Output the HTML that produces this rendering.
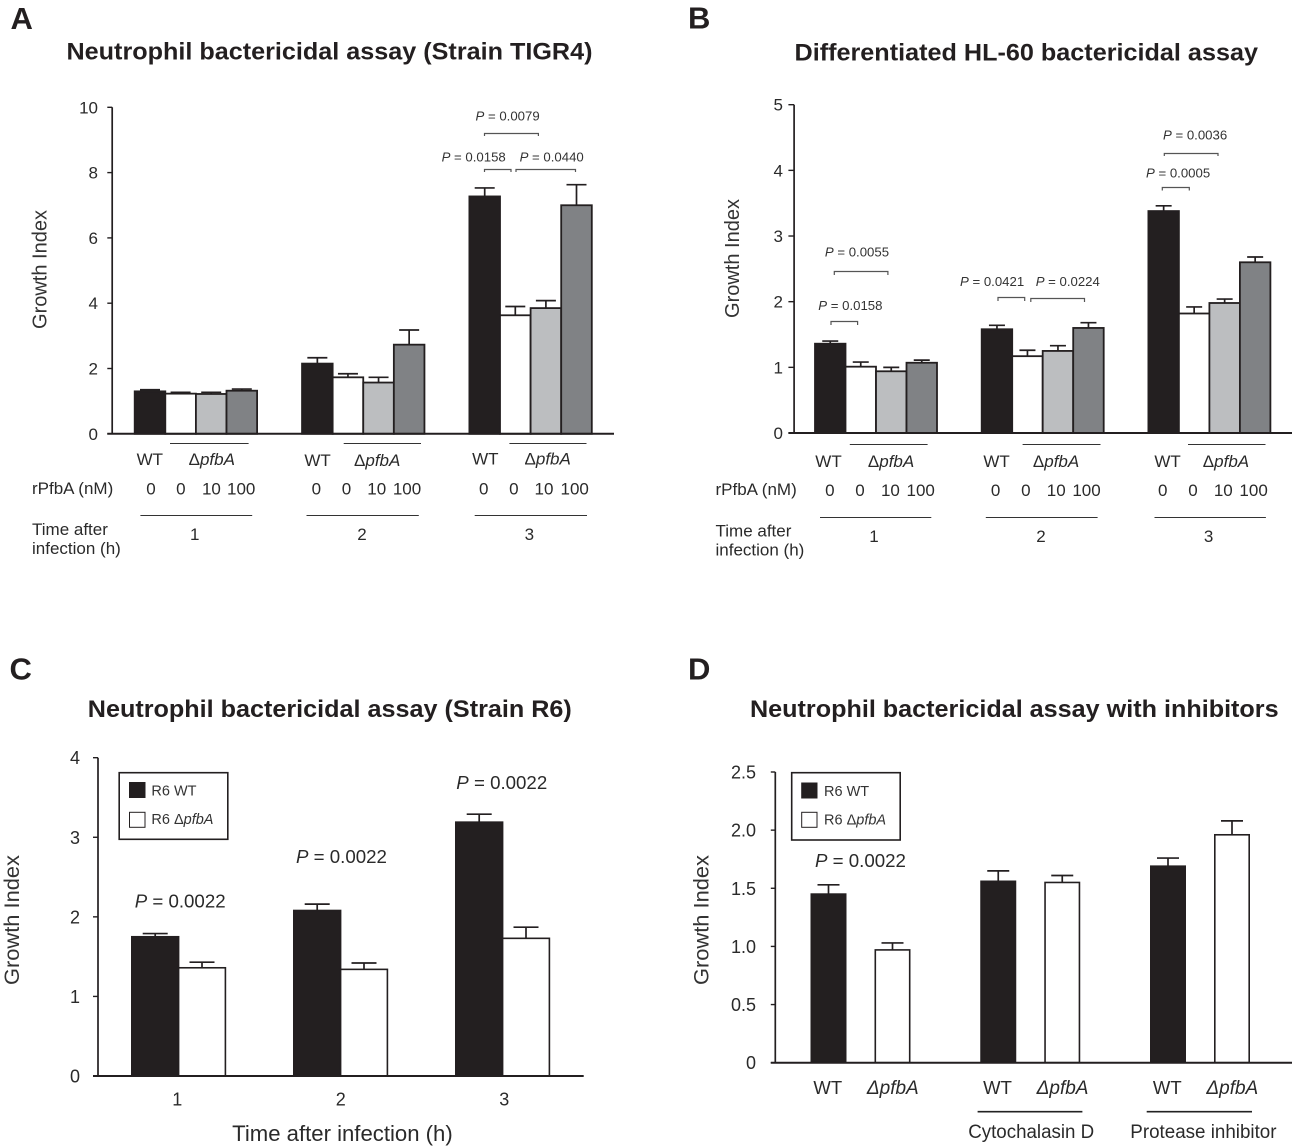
<!DOCTYPE html>
<html lang="en">
<head>
<meta charset="utf-8">
<title>Bactericidal assay growth index panels</title>
<style>
html,body{margin:0;padding:0;background:#fff;}
svg{display:block;}
text{font-family:"Liberation Sans",Arial,sans-serif;fill:#231f20;}
.letter{font-size:31px;font-weight:bold;}
.title{font-size:24.5px;font-weight:bold;}
.ylab{font-size:20.5px;fill:#333;}
.lab{font-size:17px;fill:#2a2a2a;}
.p{font-size:13.2px;fill:#333;}
.pl{font-size:18.7px;fill:#2a2a2a;}
.dl{font-size:18px;fill:#2a2a2a;}
.leg{font-size:14.5px;fill:#333;}
.i{font-style:italic;}
.br{fill:none;stroke:#555;stroke-width:1.2;}
.ln{stroke:#333;stroke-width:1.1;}
.lnb{stroke:#222;stroke-width:1.6;}
</style>
</head>
<body>
<svg id="fig" width="1292" height="1148" viewBox="0 0 1292 1148" xmlns="http://www.w3.org/2000/svg">
<rect width="1292" height="1148" fill="#fff"/>

<!-- Panel A -->
<g id="panelA">
<text class="letter" x="10.5" y="29">A</text>
<text class="title" x="66.5" y="59.5" textLength="526" lengthAdjust="spacingAndGlyphs">Neutrophil bactericidal assay (Strain TIGR4)</text>
<text class="ylab" transform="translate(46.5,329) rotate(-90)" textLength="119" lengthAdjust="spacingAndGlyphs">Growth Index</text>
<text class="lab" x="149.8" y="465" text-anchor="middle">WT</text>
<text class="lab" x="188.6" y="465">Δ<tspan class="i">pfbA</tspan></text>
<text class="lab" x="317.6" y="466" text-anchor="middle">WT</text>
<text class="lab" x="354" y="466">Δ<tspan class="i">pfbA</tspan></text>
<text class="lab" x="485.3" y="464.5" text-anchor="middle">WT</text>
<text class="lab" x="524.5" y="464.5">Δ<tspan class="i">pfbA</tspan></text>
<line class="ln" x1="170" x2="248.6" y1="443.5" y2="443.5"/>
<line class="ln" x1="343.7" x2="421" y1="443.5" y2="443.5"/>
<line class="ln" x1="509.4" x2="586.5" y1="443.5" y2="443.5"/>
<text class="lab" x="32" y="494">rPfbA (nM)</text>
<g text-anchor="middle">
<text class="lab" x="151" y="494.5">0</text><text class="lab" x="180.8" y="494.5">0</text><text class="lab" x="211.4" y="494.5">10</text><text class="lab" x="241.2" y="494.5">100</text>
<text class="lab" x="316.3" y="494.5">0</text><text class="lab" x="346.5" y="494.5">0</text><text class="lab" x="376.7" y="494.5">10</text><text class="lab" x="407" y="494.5">100</text>
<text class="lab" x="483.7" y="494.5">0</text><text class="lab" x="513.9" y="494.5">0</text><text class="lab" x="544" y="494.5">10</text><text class="lab" x="574.7" y="494.5">100</text>
</g>
<line class="ln" x1="140.4" x2="252.2" y1="515.5" y2="515.5"/>
<line class="ln" x1="306.5" x2="418.8" y1="515.5" y2="515.5"/>
<line class="ln" x1="474.7" x2="587" y1="515.5" y2="515.5"/>
<text class="lab" x="32" y="535">Time after</text>
<text class="lab" x="32" y="554">infection (h)</text>
<text class="lab" x="194.7" y="540" text-anchor="middle">1</text>
<text class="lab" x="362" y="540" text-anchor="middle">2</text>
<text class="lab" x="529.4" y="540" text-anchor="middle">3</text>
<text class="p" x="475.5" y="120.4"><tspan class="i">P</tspan> = 0.0079</text>
<path class="br" d="M484.5 136V133.5H538.4V136"/>
<text class="p" x="441.6" y="161.5"><tspan class="i">P</tspan> = 0.0158</text>
<path class="br" d="M484.5 172V169.5H511V172"/>
<text class="p" x="519.6" y="161.5"><tspan class="i">P</tspan> = 0.0440</text>
<path class="br" d="M516 172V169.5H575.5V172"/>
</g>

<!-- Panel B -->
<g id="panelB">
<text class="letter" x="688" y="28.5">B</text>
<text class="title" x="794.5" y="60.5" textLength="463.5" lengthAdjust="spacingAndGlyphs">Differentiated HL-60 bactericidal assay</text>
<text class="ylab" transform="translate(738.9,318) rotate(-90)" textLength="119" lengthAdjust="spacingAndGlyphs">Growth Index</text>
<text class="lab" x="828.5" y="467" text-anchor="middle">WT</text>
<text class="lab" x="867.9" y="467">Δ<tspan class="i">pfbA</tspan></text>
<text class="lab" x="996.6" y="467" text-anchor="middle">WT</text>
<text class="lab" x="1032.9" y="467">Δ<tspan class="i">pfbA</tspan></text>
<text class="lab" x="1167.6" y="467" text-anchor="middle">WT</text>
<text class="lab" x="1202.8" y="467">Δ<tspan class="i">pfbA</tspan></text>
<line class="ln" x1="849.8" x2="927.6" y1="444.5" y2="444.5"/>
<line class="ln" x1="1022.6" x2="1100.5" y1="444.5" y2="444.5"/>
<line class="ln" x1="1188" x2="1265.5" y1="444.5" y2="444.5"/>
<text class="lab" x="715.5" y="495">rPfbA (nM)</text>
<g text-anchor="middle">
<text class="lab" x="829.8" y="496">0</text><text class="lab" x="860" y="496">0</text><text class="lab" x="890.4" y="496">10</text><text class="lab" x="920.7" y="496">100</text>
<text class="lab" x="995.6" y="496">0</text><text class="lab" x="1025.9" y="496">0</text><text class="lab" x="1056.2" y="496">10</text><text class="lab" x="1086.5" y="496">100</text>
<text class="lab" x="1162.7" y="496">0</text><text class="lab" x="1193" y="496">0</text><text class="lab" x="1223.3" y="496">10</text><text class="lab" x="1253.6" y="496">100</text>
</g>
<line class="ln" x1="820" x2="931.3" y1="517.5" y2="517.5"/>
<line class="ln" x1="985.8" x2="1097.6" y1="517.5" y2="517.5"/>
<line class="ln" x1="1154.5" x2="1265.9" y1="517.5" y2="517.5"/>
<text class="lab" x="715.5" y="536.4">Time after</text>
<text class="lab" x="715.5" y="555.3">infection (h)</text>
<text class="lab" x="874" y="541.8" text-anchor="middle">1</text>
<text class="lab" x="1041" y="541.8" text-anchor="middle">2</text>
<text class="lab" x="1208.6" y="541.8" text-anchor="middle">3</text>
<text class="p" x="1163" y="139.3"><tspan class="i">P</tspan> = 0.0036</text>
<path class="br" d="M1164.3 156V153.5H1218V156"/>
<text class="p" x="1146" y="177.5"><tspan class="i">P</tspan> = 0.0005</text>
<path class="br" d="M1162.3 190.5V187.5H1189.3V190.5"/>
<text class="p" x="824.9" y="256.7"><tspan class="i">P</tspan> = 0.0055</text>
<path class="br" d="M834.3 275V271.5H887.9V275"/>
<text class="p" x="818.3" y="310"><tspan class="i">P</tspan> = 0.0158</text>
<path class="br" d="M831 325V321.5H857.6V325"/>
<text class="p" x="960" y="286"><tspan class="i">P</tspan> = 0.0421</text>
<path class="br" d="M998 301V297.5H1024.7V301"/>
<text class="p" x="1035.7" y="286"><tspan class="i">P</tspan> = 0.0224</text>
<path class="br" d="M1030.8 302V298.5H1084.5V302"/>
</g>

<!-- Panel C -->
<g id="panelC">
<text class="letter" x="9.5" y="679.5">C</text>
<text class="title" x="87.8" y="717" textLength="484" lengthAdjust="spacingAndGlyphs">Neutrophil bactericidal assay (Strain R6)</text>
<text class="ylab" style="font-size:21.5px" transform="translate(19.2,985) rotate(-90)" textLength="130" lengthAdjust="spacingAndGlyphs">Growth Index</text>
<text class="pl" x="134.7" y="907.7"><tspan class="i">P</tspan> = 0.0022</text>
<text class="pl" x="296" y="863"><tspan class="i">P</tspan> = 0.0022</text>
<text class="pl" x="456.3" y="789"><tspan class="i">P</tspan> = 0.0022</text>
<text class="dl" x="232.2" y="1141" style="font-size:22px" textLength="220.5" lengthAdjust="spacingAndGlyphs">Time after infection (h)</text>
<rect x="119.2" y="772.7" width="108.6" height="66.6" fill="#fff" stroke="#231f20" stroke-width="1.6"/>
<rect x="129.5" y="782.5" width="15.5" height="15" fill="#231f20" stroke="#231f20"/>
<rect x="129.5" y="812.3" width="15.5" height="15" fill="#fff" stroke="#231f20"/>
<text class="leg" x="151.4" y="795.5">R6 WT</text>
<text class="leg" x="151.4" y="824">R6 Δ<tspan class="i">pfbA</tspan></text>
</g>

<!-- Panel D -->
<g id="panelD">
<text class="letter" x="688" y="679.5">D</text>
<text class="title" x="750" y="717" textLength="528.6" lengthAdjust="spacingAndGlyphs">Neutrophil bactericidal assay with inhibitors</text>
<text class="ylab" style="font-size:21.5px" transform="translate(708.6,985) rotate(-90)" textLength="130" lengthAdjust="spacingAndGlyphs">Growth Index</text>
<text class="pl" x="815" y="867"><tspan class="i">P</tspan> = 0.0022</text>
<line class="lnb" x1="977.6" x2="1082.4" y1="1111.7" y2="1111.7"/>
<line class="lnb" x1="1146.7" x2="1252" y1="1111.7" y2="1111.7"/>
<text class="dl" style="font-size:19px" x="968.2" y="1138" textLength="126" lengthAdjust="spacingAndGlyphs">Cytochalasin D</text>
<text class="dl" style="font-size:19px" x="1130.3" y="1138" textLength="146.2" lengthAdjust="spacingAndGlyphs">Protease inhibitor</text>
<rect x="791.7" y="772.7" width="108.5" height="67.3" fill="#fff" stroke="#231f20" stroke-width="1.6"/>
<rect x="801.7" y="783" width="15.3" height="15" fill="#231f20" stroke="#231f20"/>
<rect x="801.7" y="812.3" width="15.3" height="15" fill="#fff" stroke="#231f20"/>
<text class="leg" x="824" y="796">R6 WT</text>
<text class="leg" x="824" y="824.3">R6 Δ<tspan class="i">pfbA</tspan></text>
</g>
</svg>

<script>
// ---- Panel A data ----
const aTickLabels = ['0','2','4','6','8','10'];
const aWT = [1.30, 2.15, 7.27];
const aWTErr = [0.05, 0.18, 0.26];
const aMut0 = [1.23, 1.73, 3.63];
const aMut0Err = [0.04, 0.11, 0.27];
const aMut10 = [1.22, 1.57, 3.85];
const aMut10Err = [0.05, 0.16, 0.23];
const aMut100 = [1.32, 2.73, 7.00];
const aMut100Err = [0.05, 0.45, 0.63];

// ---- Panel B data ----
const bTickLabels = ['0','1','2','3','4','5'];
const bWT = [1.36, 1.58, 3.38];
const bWTErr = [0.04, 0.06, 0.08];
const bMut0 = [1.01, 1.17, 1.82];
const bMut0Err = [0.07, 0.09, 0.10];
const bMut10 = [0.94, 1.25, 1.98];
const bMut10Err = [0.06, 0.08, 0.06];
const bMut100 = [1.07, 1.60, 2.60];
const bMut100Err = [0.04, 0.08, 0.08];

// ---- Panel C data ----
const cTickLabels = ['0','1','2','3','4'];
const cCategories = ['1','2','3'];
const cWT = [1.75, 2.08, 3.19];
const cWTErr = [0.04, 0.08, 0.10];
const cMut = [1.36, 1.34, 1.73];
const cMutErr = [0.07, 0.08, 0.14];

// ---- Panel D data ----
const dTickLabels = ['0','0.5','1.0','1.5','2.0','2.5'];
const dWT = [1.45, 1.56, 1.69];
const dWTErr = [0.08, 0.09, 0.07];
const dMut = [0.97, 1.55, 1.96];
const dMutErr = [0.06, 0.06, 0.12];

const NS = 'http://www.w3.org/2000/svg';
const INK = '#231f20';
const GREY_LIGHT = '#bcbec0';
const GREY_DARK = '#808285';

function mk(tag, attrs, parent) {
  const el = document.createElementNS(NS, tag);
  for (const k in attrs) el.setAttribute(k, attrs[k]);
  parent.appendChild(el);
  return el;
}

function linearY(y0, yMaxPx, maxVal) {
  return function (v) { return y0 + (yMaxPx - y0) * v / maxVal; };
}

function bandX(start, groupStep, barStep) {
  return function (g, s) { return start + g * groupStep + s * barStep; };
}

function drawAxes(parent, y, tickLabels, ax) {
  tickLabels.forEach(function (lab) {
    const v = parseFloat(lab);
    const tick = mk('line', { x1: ax.tickX, x2: ax.x, y1: y(v), y2: y(v), stroke: INK, 'stroke-width': 1.4 }, parent);
    
    
    const t = mk('text', { x: ax.labelX, y: y(v) + ax.labelDy, 'text-anchor': 'end', style: 'font-size:' + ax.fontSize + 'px;fill:#2a2a2a' }, parent);
    t.textContent = lab;
    
    
  });
  const maxV = parseFloat(tickLabels[tickLabels.length - 1]);
  const yl = mk('line', { x1: ax.x, x2: ax.x, y1: y(maxV), y2: y(0), stroke: INK, 'stroke-width': 1.7 }, parent);
  
  
}

function drawXAxis(parent, y, ax) {
  const xl = mk('line', { x1: ax.tickX, x2: ax.endX, y1: y(0), y2: y(0), stroke: INK, 'stroke-width': 2 }, parent);
  
  
}

function drawBar(parent, x, w, y, value, err, fill, capW, sw) {
  const cx = x + w / 2;
  const stem = mk('line', { x1: cx, x2: cx, y1: y(value), y2: y(value + err), stroke: INK, 'stroke-width': 1.7 }, parent);
  
  
  const cap = mk('line', { x1: cx - capW / 2, x2: cx + capW / 2, y1: y(value + err), y2: y(value + err), stroke: INK, 'stroke-width': 1.7 }, parent);
  
  
  const bar = mk('rect', { x: x, y: y(value), width: w, height: y(0) - y(value), fill: fill, stroke: INK, 'stroke-width': sw }, parent);
  
  
}

// Panel A
(function () {
  const p = document.getElementById('panelA');
  const y = linearY(433.8, 107.3, 10);
  const x = bandX(134.7, 167.35, 30.6);
  const series = [[aWT, aWTErr, INK], [aMut0, aMut0Err, '#fff'], [aMut10, aMut10Err, GREY_LIGHT], [aMut100, aMut100Err, GREY_DARK]];
  const ax = { x: 112.2, tickX: 107.3, endX: 614, labelX: 98, labelDy: 6, fontSize: 17 };
  drawAxes(p, y, aTickLabels, ax);
  series.forEach(function (s, si) {
    s[0].forEach(function (v, g) { drawBar(p, x(g, si), 30.6, y, v, s[1][g], s[2], 20, 1.8); });
  });
  drawXAxis(p, y, ax);
})();

// Panel B
(function () {
  const p = document.getElementById('panelB');
  const y = linearY(433, 104.7, 5);
  const x = bandX(815, 166.7, 30.5);
  const series = [[bWT, bWTErr, INK], [bMut0, bMut0Err, '#fff'], [bMut10, bMut10Err, GREY_LIGHT], [bMut100, bMut100Err, GREY_DARK]];
  const ax = { x: 794.1, tickX: 788.4, endX: 1292, labelX: 783, labelDy: 6, fontSize: 17 };
  drawAxes(p, y, bTickLabels, ax);
  series.forEach(function (s, si) {
    s[0].forEach(function (v, g) { drawBar(p, x(g, si), 30.5, y, v, s[1][g], s[2], 16, 1.8); });
  });
  drawXAxis(p, y, ax);
})();

// Panel C
(function () {
  const p = document.getElementById('panelC');
  const y = linearY(1076, 757.7, 4);
  const x = bandX(131.8, 162, 46.8);
  const tickX = bandX(177.2, 163.5, 0);
  const series = [[cWT, cWTErr, INK], [cMut, cMutErr, '#fff']];
  const ax = { x: 98, tickX: 93, endX: 583.7, labelX: 80, labelDy: 6.5, fontSize: 18 };
  drawAxes(p, y, cTickLabels, ax);
  series.forEach(function (s, si) {
    s[0].forEach(function (v, g) { drawBar(p, x(g, si), 46.8, y, v, s[1][g], s[2], 25, 1.6); });
  });
  cCategories.forEach(function (c, g) {
    const t = mk('text', { x: tickX(g, 0), y: 1105.7, 'text-anchor': 'middle', style: 'font-size:18px;fill:#2a2a2a' }, p);
    t.textContent = c;
    
    
  });
  drawXAxis(p, y, ax);
})();

// Panel D
(function () {
  const p = document.getElementById('panelD');
  const y = linearY(1062.7, 772, 2.5);
  const x = bandX(811.3, 169.75, 64);
  const series = [[dWT, dWTErr, INK], [dMut, dMutErr, '#fff']];
  const ax = { x: 775.3, tickX: 770.8, endX: 1292, labelX: 756, labelDy: 6.5, fontSize: 18 };
  drawAxes(p, y, dTickLabels, ax);
  series.forEach(function (s, si) {
    s[0].forEach(function (v, g) { drawBar(p, x(g, si), 34.4, y, v, s[1][g], s[2], 22, 1.6); });
  });
  [0, 1, 2].forEach(function (g) {
    const wt = mk('text', { x: x(g, 0) + 16.5, y: 1094, 'text-anchor': 'middle', style: 'font-size:18.5px;fill:#2a2a2a' }, p);
    wt.textContent = 'WT';
    
    
    const mu = mk('text', { x: x(g, 1) + 17.5, y: 1094, 'text-anchor': 'middle', style: 'font-size:19px;font-style:italic;fill:#2a2a2a' }, p);
    mu.textContent = 'Δ' + 'pfbA';
    
    
  });
  drawXAxis(p, y, ax);
})();
</script>
</body>
</html>
